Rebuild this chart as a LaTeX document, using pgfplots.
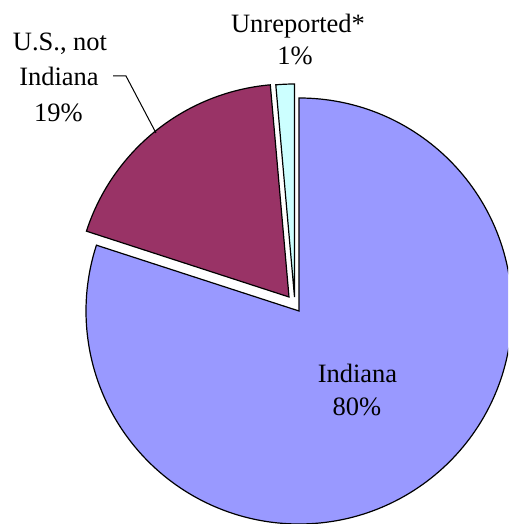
\documentclass[border=0pt]{standalone}
\usepackage{pgfplots}
\usepackage{pgfplotstable}
\pgfplotsset{compat=1.18}
\usepackage{fontspec}
\setmainfont{Liberation Serif}

\definecolor{indiana}{HTML}{9999FF}
\definecolor{usnot}{HTML}{993366}
\definecolor{unrep}{HTML}{CCFFFF}

% share (percent) and tip of each slice (px, y up)
\pgfplotstableread{
name       value  vx     vy   col
Indiana    80.0   299    213  indiana
USnotIN    18.6   289    227  usnot
Unreported 1.4    294.5  227  unrep
}\piedata

\begin{document}
\fontsize{13.25}{16.7}\selectfont
\begin{tikzpicture}
\useasboundingbox (0,0) rectangle (254pt,262pt);
\begin{axis}[
    at={(0,0)}, anchor=south west,
    x=0.5pt, y=0.5pt,
    xmin=0, xmax=508, ymin=0, ymax=524,
    hide axis,
    ]
    \xdef\curangle{90}
    \pgfplotsinvokeforeach{0,1,2}{
        \pgfplotstablegetelem{#1}{value}\of\piedata \let\val\pgfplotsretval
        \pgfplotstablegetelem{#1}{vx}\of\piedata \let\vx\pgfplotsretval
        \pgfplotstablegetelem{#1}{vy}\of\piedata \let\vy\pgfplotsretval
        \pgfplotstablegetelem{#1}{col}\of\piedata \let\col\pgfplotsretval
        \pgfmathsetmacro\endangle{\curangle-3.6*\val}
        \pgfmathsetmacro\sx{\vx+213*cos(\curangle)}
        \pgfmathsetmacro\sy{\vy+213*sin(\curangle)}
        \edef\cmd{\noexpand\fill[fill=\col, draw=black, line width=0.6pt]
            (axis cs:\vx,\vy) -- (axis cs:\sx,\sy)
            arc[start angle=\curangle, end angle=\endangle, radius=106.5pt] -- cycle;}
        \cmd
        \xdef\curangle{\endangle}
    }
    % labels
    \node[anchor=base, inner sep=0pt] at (axis cs:298,491) {Unreported*};
    \node[anchor=base, inner sep=0pt] at (axis cs:295,459) {1\%};
    \node[anchor=base, inner sep=0pt] at (axis cs:60,473.3) {U.S., not};
    \node[anchor=base, inner sep=0pt] at (axis cs:59,438) {Indiana};
    \node[anchor=base, inner sep=0pt] at (axis cs:58.5,402.3) {19\%};
    \node[anchor=base, inner sep=0pt] at (axis cs:357.5,141.7) {Indiana};
    \node[anchor=base, inner sep=0pt] at (axis cs:357,108.3) {80\%};
    \draw[line width=0.5pt] (axis cs:113,448) -- (axis cs:126,448) -- (axis cs:156,391);
\end{axis}
\end{tikzpicture}
\end{document}
